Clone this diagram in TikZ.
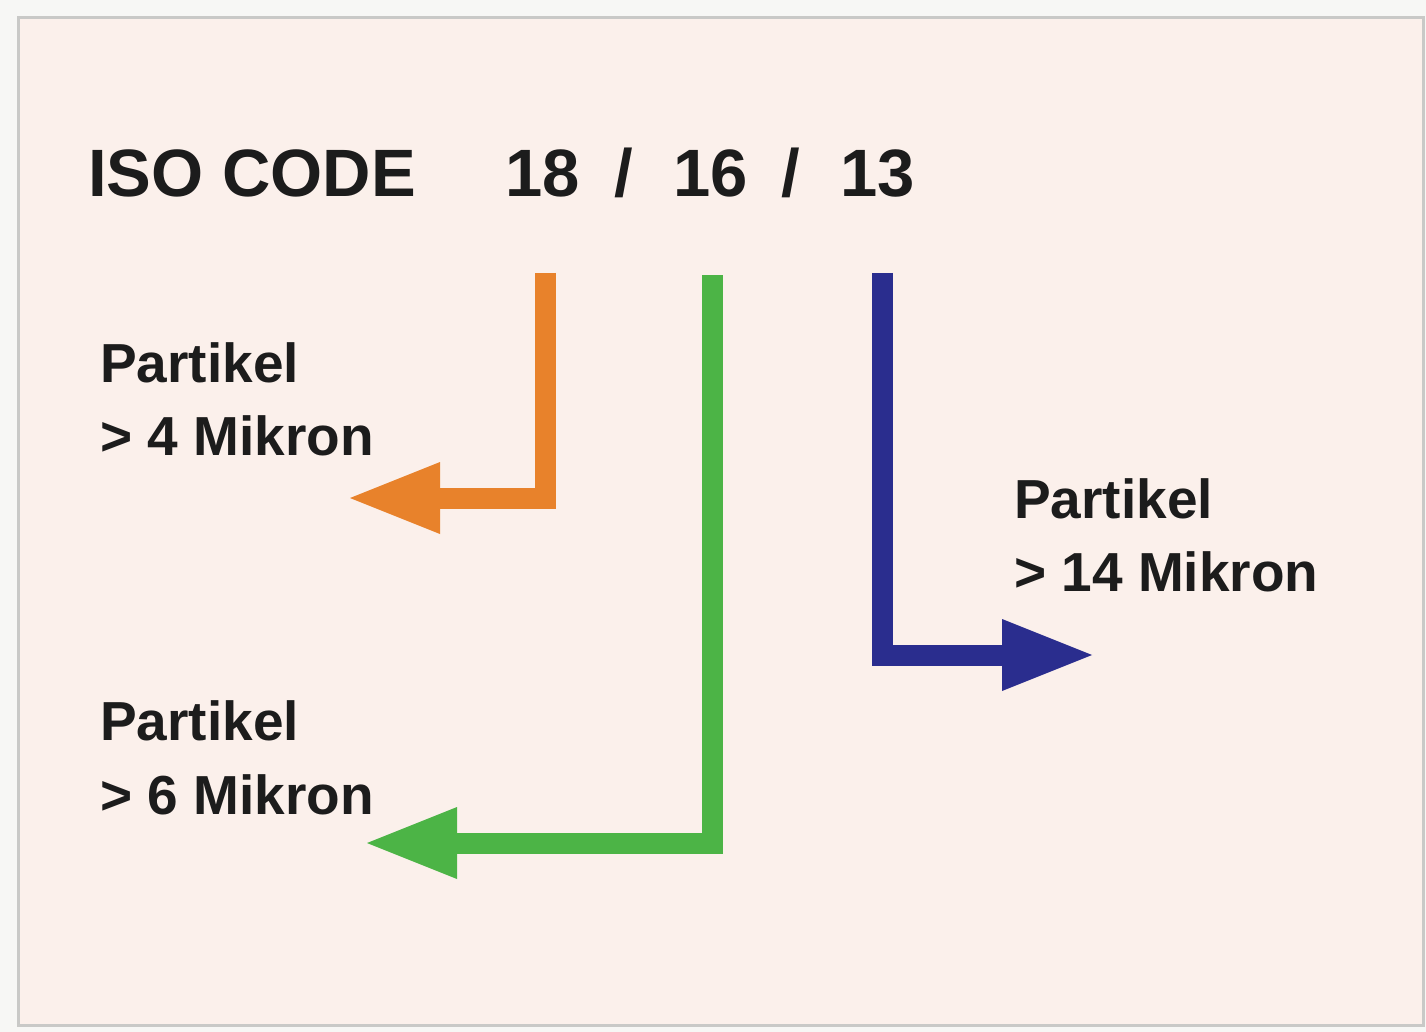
\documentclass[tikz,border=0pt]{standalone}
\usepackage{fontspec}
\setmainfont{Liberation Sans}
\usetikzlibrary{arrows.meta}
\definecolor{panel}{HTML}{FBF0EB}
\definecolor{outer}{HTML}{F7F7F5}
\definecolor{frame}{HTML}{C9C9C7}
\definecolor{orangeA}{HTML}{E8822B}
\definecolor{greenA}{HTML}{4CB446}
\definecolor{blueA}{HTML}{2A2D8E}
\definecolor{ink}{HTML}{1C1C1C}
\begin{document}
\begin{tikzpicture}[x=1pt,y=-1pt,
  titletext/.style={anchor=base west,inner sep=0pt,text=ink,font=\bfseries\fontsize{67}{72}\selectfont},
  lbl/.style={anchor=base west,inner sep=0pt,text=ink,font=\bfseries\fontsize{55}{60}\selectfont},
  bent/.style={line width=21pt,line join=miter,line cap=butt,
    -{Triangle[length=90pt,width=72pt,line width=0pt]}}
]
\useasboundingbox (0,0) rectangle (1426,1032);
\fill[outer] (0,0) rectangle (1426,1032);
\draw[frame,line width=3pt,fill=panel] (18.5,17.5) rectangle (1423,1025);

% title
\node[titletext] (iso) at (88,197) {ISO CODE};
\node[titletext] (n18) at (505,197) {18};
\node[titletext] (s1) at (614,197) {/};
\node[titletext] (n16) at (673,197) {16};
\node[titletext] (s2) at (781,197) {/};
\node[titletext] (n13) at (840,197) {13};

% labels
\node[lbl] (p4a) at (100,382) {Partikel};
\node[lbl] (p4b) at (100,455) {> 4 Mikron};
\node[lbl] (p6a) at (100,740) {Partikel};
\node[lbl] (p6b) at (100,814) {> 6 Mikron};
\node[lbl] (p14a) at (1014,518) {Partikel};
\node[lbl] (p14b) at (1014,591) {> 14 Mikron};

% connectors
\coordinate (oA) at (545,273);
\coordinate (oB) at (545,498);
\coordinate (oC) at (350,498);
\coordinate (gA) at (712,275);
\coordinate (gB) at (712,843);
\coordinate (gC) at (367,843);
\coordinate (bA) at (882,273);
\coordinate (bB) at (882,655);
\coordinate (bC) at (1092,655);

\draw[bent,orangeA] (oA) -- (oB) -- (oC);
\draw[bent,greenA] (gA) -- (gB) -- (gC);
\draw[bent,blueA] (bA) -- (bB) -- (bC);
\end{tikzpicture}
\end{document}
